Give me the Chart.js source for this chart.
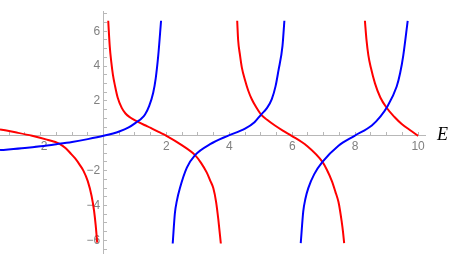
<!DOCTYPE html>
<html>
<head>
<meta charset="utf-8">
<script src="https://cdn.jsdelivr.net/npm/chart.js@4"></script>
<style>
  html, body { margin: 0; padding: 0; background: #fff; }
  #wrap { width: 450px; height: 265px; }
</style>
</head>
<body>
<div id="wrap"><canvas id="chart1"></canvas></div>
<script>
// branches, [E, value]
const blue1 = [[-3.29,-0.82],[-2.5,-0.7],[-2.0,-0.6],[-1.5,-0.48],[-1.0,-0.35],[-0.5,-0.19],[0,0],[0.5,0.25],[0.8,0.48],[1.08,0.82],[1.2,0.98],[1.32,1.22],[1.45,1.7],[1.58,2.47],[1.66,3.3],[1.74,4.6],[1.83,6.6]];
const blue2 = [[2.2,-6.18],[2.27,-4.43],[2.33,-3.75],[2.43,-3.0],[2.65,-1.83],[2.91,-1.11],[3.39,-0.48],[3.95,0],[4.5,0.41],[4.8,0.78],[5.01,1.22],[5.2,1.6],[5.35,2.11],[5.47,2.85],[5.56,3.73],[5.69,5.16],[5.75,6.6]];
const blue3 = [[6.27,-6.16],[6.35,-4.34],[6.42,-3.6],[6.51,-3.0],[6.7,-2.2],[6.96,-1.5],[7.47,-0.57],[7.98,0],[8.53,0.59],[8.8,1.1],[9.0,1.61],[9.32,2.83],[9.43,3.6],[9.53,4.62],[9.67,6.6]];
const red1 = [[-3.29,0.37],[-2.8,0.2],[-2.27,0],[-1.8,-0.22],[-1.41,-0.45],[-1.2,-0.72],[-1.05,-1.0],[-0.9,-1.3],[-0.75,-1.68],[-0.64,-2.0],[-0.5,-2.6],[-0.38,-3.44],[-0.3,-4.3],[-0.25,-5.1],[-0.2,-6.13]];
const red2 = [[0.15,6.6],[0.2,5.1],[0.25,4.2],[0.3,3.5],[0.37,2.83],[0.45,2.2],[0.58,1.6],[0.7,1.28],[0.85,1.05],[1.08,0.82],[1.3,0.62],[1.5,0.45],[1.75,0.22],[2.0,0],[2.5,-0.55],[2.91,-1.11],[3.1,-1.55],[3.28,-2.1],[3.4,-2.6],[3.49,-3.0],[3.58,-3.8],[3.65,-4.8],[3.73,-6.18]];
const red3 = [[4.25,6.6],[4.28,5.5],[4.34,4.62],[4.4,3.9],[4.5,3.19],[4.6,2.6],[4.71,2.11],[4.85,1.65],[5.01,1.22],[5.2,0.92],[5.45,0.59],[5.7,0.3],[5.98,0],[6.46,-0.57],[6.96,-1.5],[7.1,-1.95],[7.26,-2.6],[7.37,-3.2],[7.47,-3.8],[7.52,-4.3],[7.57,-4.9],[7.61,-5.45],[7.65,-6.16]];
const red4 = [[8.31,6.6],[8.36,5.5],[8.42,4.62],[8.5,3.9],[8.63,3.01],[8.8,2.2],[9.0,1.61],[9.25,1.08],[9.48,0.68],[9.75,0.32],[10.0,0]];

const xLabels = [-2, 2, 4, 6, 8, 10];
const yLabels = [-6, -4, -2, 2, 4, 6];

function branch(pts, color) {
  return {
    data: pts.map(p => ({ x: p[0], y: p[1] })),
    borderColor: color,
    borderWidth: 2,
    pointRadius: 0,
    showLine: true,
    fill: false,
    cubicInterpolationMode: 'monotone'
  };
}

function fmt(v) {
  return v < 0 ? '\u2212' + Math.abs(v) : String(v);
}

const axisTitle = {
  id: 'axisTitle',
  afterDraw(chart) {
    const ctx = chart.ctx;
    const xs = chart.scales.x, ys = chart.scales.y;
    ctx.save();
    ctx.font = 'italic 18px "Liberation Serif"';
    ctx.fillStyle = '#000';
    ctx.textBaseline = 'alphabetic';
    ctx.fillText('E', xs.right + 12, ys.getPixelForValue(0) + 4);
    ctx.restore();
  }
};

const tickFont = { family: 'Liberation Sans', size: 12 };

new Chart(document.getElementById('chart1').getContext('2d'), {
  type: 'scatter',
  data: {
    datasets: [
      branch(blue1, '#0000ff'), branch(blue2, '#0000ff'), branch(blue3, '#0000ff'),
      branch(red1, '#ff0000'), branch(red2, '#ff0000'), branch(red3, '#ff0000'), branch(red4, '#ff0000')
    ]
  },
  options: {
    responsive: true,
    maintainAspectRatio: false,
    animation: false,
    layout: { padding: { left: 0, right: 25, top: 3, bottom: 3 } },
    plugins: { legend: { display: false }, tooltip: { enabled: false } },
    scales: {
      x: {
        type: 'linear',
        position: { y: 0 },
        min: -3.29,
        max: 10.22,
        border: { color: '#b8b8b8', width: 1 },
        grid: { drawOnChartArea: false, tickLength: -4, color: '#b8b8b8' },
        ticks: {
          stepSize: 0.5,
          includeBounds: false,
          autoSkip: false,
          maxRotation: 0,
          padding: 8,
          color: '#808080',
          font: tickFont,
          callback: v => xLabels.includes(v) ? fmt(v) : ''
        }
      },
      y: {
        type: 'linear',
        position: { x: 0 },
        min: -6.77,
        max: 7.15,
        border: { color: '#b8b8b8', width: 1 },
        grid: { drawOnChartArea: false, tickLength: -4, color: '#b8b8b8' },
        ticks: {
          stepSize: 0.5,
          includeBounds: false,
          autoSkip: false,
          padding: 4,
          color: '#808080',
          font: tickFont,
          callback: v => yLabels.includes(v) ? fmt(v) + ' ' : ''
        }
      }
    }
  },
  plugins: [axisTitle]
});
</script>
</body>
</html>
